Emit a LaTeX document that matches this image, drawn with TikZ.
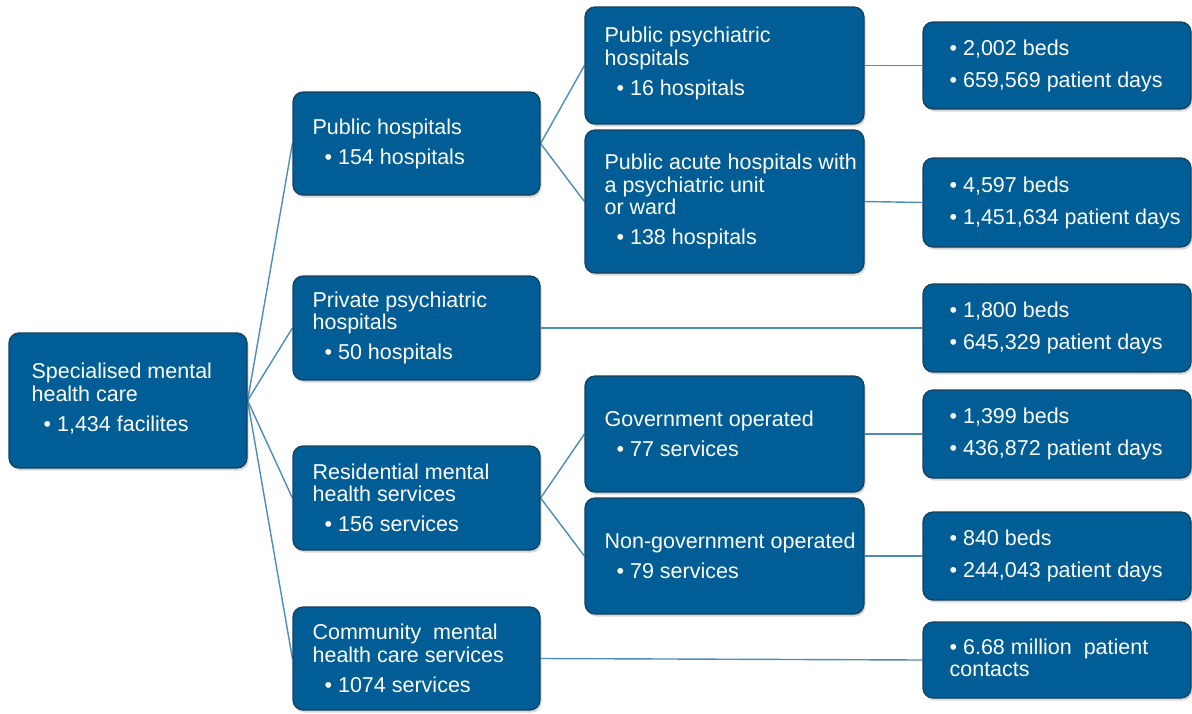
\documentclass[tikz,border=0pt]{standalone}
\usepackage{fontspec}
\setmainfont{Liberation Sans}
\usetikzlibrary{shadows,backgrounds}
\definecolor{boxblue}{HTML}{005D95}
\definecolor{boxedge}{HTML}{163F5C}
\definecolor{linkblue}{HTML}{4C8DB8}
\newcommand\bitem{\hspace*{12pt}\textbullet\ }
\tikzset{
  box/.style={draw=boxedge, line width=1.2pt, fill=boxblue, rounded corners=10pt, inner sep=0pt,
    drop shadow={shadow xshift=1.5pt, shadow yshift=-2.5pt, opacity=0.3}},
  txt/.style={anchor=west, align=left, inner sep=0pt, text=white, font=\fontsize{21.5}{22.5}\selectfont},
  link/.style={draw=linkblue, line width=1.4pt},
}
\begin{document}
\begin{tikzpicture}[x=1pt, y=-1pt]
\useasboundingbox (0,0) rectangle (1192,713);
% level 1
\node[box, minimum width=238pt, minimum height=135pt] (root) at (128,400.5) {};
% level 2
\node[box, minimum width=247pt, minimum height=103pt] (pub) at (416.5,143.5) {};
\node[box, minimum width=247pt, minimum height=104pt] (priv) at (416.5,328) {};
\node[box, minimum width=247pt, minimum height=104pt] (res) at (416.5,498) {};
\node[box, minimum width=247pt, minimum height=103pt] (com) at (416.5,658.5) {};
% level 3
\node[box, minimum width=279pt, minimum height=117pt] (psy) at (724.5,65.5) {};
\node[box, minimum width=279pt, minimum height=143pt] (acute) at (724.5,201.5) {};
\node[box, minimum width=279pt, minimum height=116pt] (gov) at (724.5,434) {};
\node[box, minimum width=279pt, minimum height=116pt] (ngo) at (724.5,556) {};
% right column
\node[box, minimum width=268pt, minimum height=87pt] (r1) at (1057,65.5) {};
\node[box, minimum width=268pt, minimum height=89pt] (r2) at (1057,202.5) {};
\node[box, minimum width=268pt, minimum height=88pt] (r3) at (1057,328) {};
\node[box, minimum width=268pt, minimum height=88pt] (r4) at (1057,434) {};
\node[box, minimum width=268pt, minimum height=88pt] (r5) at (1057,556) {};
\node[box, minimum width=268pt, minimum height=76pt] (r6) at (1057,660) {};
% texts
\node[txt] (rootT) at ([xshift=23pt,yshift=2pt]root.west) {Specialised mental\\health care\\[7.5pt]\bitem 1,434 facilites};
\node[txt] (pubT) at ([xshift=20pt]pub.west) {Public hospitals\\[7.5pt]\bitem 154 hospitals};
\node[txt] (privT) at ([xshift=20pt]priv.west) {Private psychiatric\\hospitals\\[7.5pt]\bitem 50 hospitals};
\node[txt] (resT) at ([xshift=20pt]res.west) {Residential mental\\health services\\[7.5pt]\bitem 156 services};
\node[txt] (comT) at ([xshift=20pt]com.west) {Community\ \ mental\\health care services\\[7.5pt]\bitem 1074 services};
\node[txt] (psyT) at ([xshift=20pt,yshift=2pt]psy.west) {Public psychiatric\\hospitals\\[7.5pt]\bitem 16 hospitals};
\node[txt] (acuteT) at ([xshift=20pt]acute.west) {Public acute hospitals with\\a psychiatric unit\\or ward\\[7.5pt]\bitem 138 hospitals};
\node[txt] (govT) at ([xshift=20pt]gov.west) {Government operated\\[7.5pt]\bitem 77 services};
\node[txt] (ngoT) at ([xshift=20pt]ngo.west) {Non-government operated\\[7.5pt]\bitem 79 services};
\node[txt] (r1T) at ([xshift=27pt]r1.west) {\textbullet\ 2,002 beds\\[9.5pt]\textbullet\ 659,569 patient days};
\node[txt] (r2T) at ([xshift=27pt]r2.west) {\textbullet\ 4,597 beds\\[9.5pt]\textbullet\ 1,451,634 patient days};
\node[txt] (r3T) at ([xshift=27pt]r3.west) {\textbullet\ 1,800 beds\\[9.5pt]\textbullet\ 645,329 patient days};
\node[txt] (r4T) at ([xshift=27pt]r4.west) {\textbullet\ 1,399 beds\\[9.5pt]\textbullet\ 436,872 patient days};
\node[txt] (r5T) at ([xshift=27pt]r5.west) {\textbullet\ 840 beds\\[9.5pt]\textbullet\ 244,043 patient days};
\node[txt] (r6T) at ([xshift=27pt,yshift=2pt]r6.west) {\textbullet\ 6.68 million\ \ patient\\contacts};
% connectors
\begin{pgfonlayer}{background}
\draw[link] (root.east) -- (pub.west);
\draw[link] (root.east) -- (priv.west);
\draw[link] (root.east) -- (res.west);
\draw[link] (root.east) -- (com.west);
\draw[link] (pub.east) -- (psy.west);
\draw[link] (pub.east) -- (acute.west);
\draw[link] (res.east) -- (gov.west);
\draw[link] (res.east) -- (ngo.west);
\draw[link] (priv.east) -- (r3.west);
\draw[link] (com.east) -- (r6.west);
\draw[link] (psy.east) -- (r1.west);
\draw[link] (acute.east) -- (r2.west);
\draw[link] (gov.east) -- (r4.west);
\draw[link] (ngo.east) -- (r5.west);
\end{pgfonlayer}
\end{tikzpicture}
\end{document}
